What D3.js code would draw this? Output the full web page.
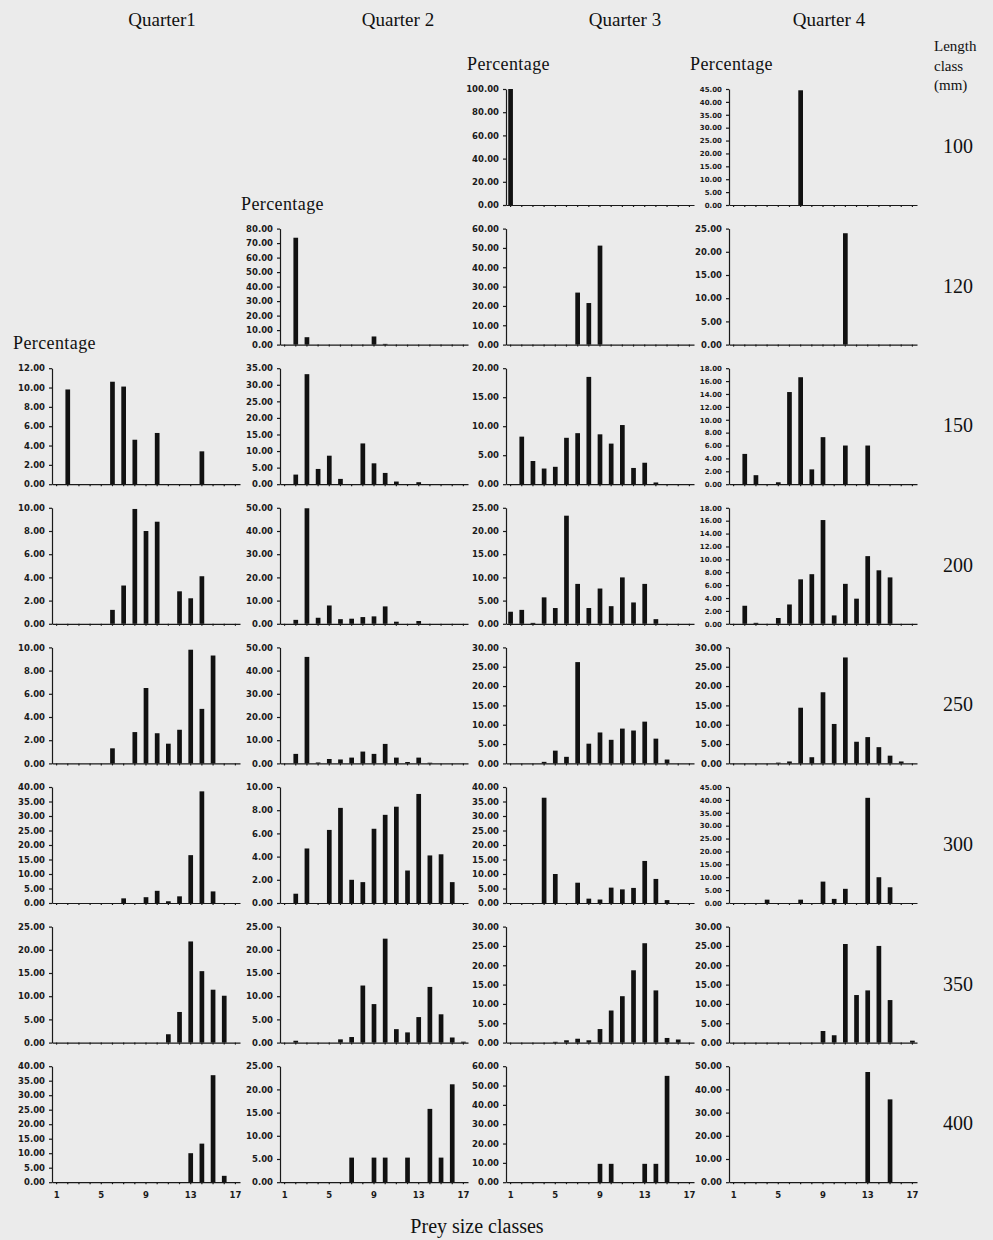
<!DOCTYPE html>
<html>
<head>
<meta charset="utf-8">
<script src="https://cdn.jsdelivr.net/npm/d3@7"></script>
<style>
  html, body { margin: 0; padding: 0; background: #ebebeb; }
  svg { display: block; }
  .ytick text, .xtick text { font-family: "DejaVu Sans", sans-serif; font-weight: bold; fill: #1a1a1a; }
  .serif { font-family: "Liberation Serif", "Times New Roman", serif; fill: #111; }
</style>
</head>
<body>
<script>
// Prey size class distribution (% of prey) by predator length class and quarter
const classes = d3.range(1, 18);               // prey size classes 1..17
const classLabels = [1, 5, 9, 13, 17];
const lengthClasses = [100, 120, 150, 200, 250, 300, 350, 400];
const quarters = ["Quarter1", "Quarter 2", "Quarter 3", "Quarter 4"];

// [prey size class, percentage]
const q1_150 = [[2,9.8],[6,10.6],[7,10.1],[8,4.6],[10,5.3],[14,3.4]];
const q1_200 = [[6,1.2],[7,3.3],[8,9.9],[9,8.0],[10,8.8],[12,2.8],[13,2.2],[14,4.1]];
const q1_250 = [[6,1.3],[8,2.7],[9,6.5],[10,2.6],[11,1.7],[12,2.9],[13,9.8],[14,4.7],[15,9.3]];
const q1_300 = [[7,1.6],[9,2.0],[10,4.2],[11,0.6],[12,2.3],[13,16.5],[14,38.5],[15,4.0]];
const q1_350 = [[11,1.8],[12,6.6],[13,21.8],[14,15.4],[15,11.4],[16,10.1]];
const q1_400 = [[13,10.0],[14,13.3],[15,36.9],[16,2.2]];

const q2_120 = [[2,73.7],[3,5.1],[9,5.6],[10,0.5]];
const q2_150 = [[2,2.9],[3,33.2],[4,4.6],[5,8.6],[6,1.6],[8,12.3],[9,6.3],[10,3.4],[11,0.8],[13,0.6]];
const q2_200 = [[2,1.7],[3,49.8],[4,2.6],[5,7.9],[6,2.0],[7,2.2],[8,2.9],[9,3.2],[10,7.5],[11,0.9],[13,1.2]];
const q2_250 = [[2,4.1],[3,45.9],[4,0.4],[5,1.9],[6,1.7],[7,2.5],[8,5.1],[9,4.1],[10,8.4],[11,2.5],[12,0.6],[13,2.5],[14,0.3]];
const q2_300 = [[2,0.8],[3,4.7],[5,6.3],[6,8.2],[7,2.0],[8,1.8],[9,6.4],[10,7.6],[11,8.3],[12,2.8],[13,9.4],[14,4.1],[15,4.2],[16,1.8]];
const q2_350 = [[2,0.4],[6,0.7],[7,1.2],[8,12.3],[9,8.3],[10,22.4],[11,2.9],[12,2.2],[13,5.5],[14,12.0],[15,6.1],[16,1.1],[17,0.2]];
const q2_400 = [[7,5.3],[9,5.3],[10,5.3],[12,5.3],[14,15.8],[15,5.3],[16,21.1]];

const q3_100 = [[1,100]];
const q3_120 = [[7,26.9],[8,21.5],[9,51.2]];
const q3_150 = [[2,8.2],[3,4.0],[4,2.7],[5,3.0],[6,8.0],[7,8.8],[8,18.5],[9,8.6],[10,7.0],[11,10.2],[12,2.8],[13,3.7],[14,0.3]];
const q3_200 = [[1,2.6],[2,3.0],[3,0.2],[4,5.7],[5,3.4],[6,23.3],[7,8.6],[8,3.4],[9,7.6],[10,3.8],[11,10.0],[12,4.6],[13,8.6],[14,1.0]];
const q3_250 = [[4,0.4],[5,3.3],[6,1.7],[7,26.2],[8,5.1],[9,8.0],[10,6.1],[11,9.0],[12,8.5],[13,10.8],[14,6.4],[15,1.0]];
const q3_300 = [[4,36.3],[5,10.0],[7,7.0],[8,1.5],[9,1.2],[10,5.3],[11,4.7],[12,5.2],[13,14.5],[14,8.3],[15,1.0]];
const q3_350 = [[5,0.2],[6,0.6],[7,1.0],[8,0.6],[9,3.5],[10,8.3],[11,12.0],[12,18.7],[13,25.7],[14,13.5],[15,1.2],[16,0.8]];
const q3_400 = [[9,9.5],[10,9.5],[13,9.5],[14,9.5],[15,55.0]];

const q4_100 = [[7,44.5]];
const q4_120 = [[11,24.0]];
const q4_150 = [[2,4.7],[3,1.4],[5,0.3],[6,14.3],[7,16.6],[8,2.3],[9,7.3],[11,6.0],[13,6.0]];
const q4_200 = [[2,2.8],[3,0.15],[5,0.9],[6,3.0],[7,6.9],[8,7.7],[9,16.1],[10,1.3],[11,6.2],[12,3.9],[13,10.5],[14,8.3],[15,7.2]];
const q4_250 = [[5,0.2],[6,0.5],[7,14.4],[8,1.6],[9,18.4],[10,10.2],[11,27.4],[12,5.6],[13,6.8],[14,4.2],[15,2.0],[16,0.5]];
const q4_300 = [[4,1.3],[7,1.3],[9,8.3],[10,1.6],[11,5.5],[13,40.8],[14,10.0],[15,6.1]];
const q4_350 = [[9,3.0],[10,1.9],[11,25.5],[12,12.3],[13,13.5],[14,25.0],[15,11.0],[17,0.5]];
const q4_400 = [[13,47.5],[15,35.7]];

// y-axis top value and tick step per length class (null = no panel)
const q1Max  = [null, null, 12, 10, 10, 40, 25, 40];
const q1Step = [null, null,  2,  2,  2,  5,  5,  5];
const q2Max  = [null, 80, 35, 50, 50, 10, 25, 25];
const q2Step = [null, 10,  5, 10, 10,  2,  5,  5];
const q3Max  = [100, 60, 20, 25, 30, 40, 30, 60];
const q3Step = [ 20, 10,  5,  5,  5,  5,  5, 10];
const q4Max  = [45, 25, 18, 18, 30, 45, 30, 50];
const q4Step = [ 5,  5,  2,  2,  5,  5,  5, 10];

const seriesByQuarter = [
  [null, null, q1_150, q1_200, q1_250, q1_300, q1_350, q1_400],
  [null, q2_120, q2_150, q2_200, q2_250, q2_300, q2_350, q2_400],
  [q3_100, q3_120, q3_150, q3_200, q3_250, q3_300, q3_350, q3_400],
  [q4_100, q4_120, q4_150, q4_200, q4_250, q4_300, q4_350, q4_400]
];
const maxByQuarter = [q1Max, q2Max, q3Max, q4Max];
const stepByQuarter = [q1Step, q2Step, q3Step, q4Step];

// layout
const width = 993, height = 1240;
const colX = [52, 280, 506, 729];
const titleX = [162, 398, 625, 829];
const PW = 188, PH = 116;
const rowTop = i => 89 + i * 139.6;
const labelX = 958;

const svg = d3.select("body").append("svg")
  .attr("width", width).attr("height", height);

svg.append("rect").attr("width", width).attr("height", height).attr("fill", "#ebebeb");

const x = d3.scaleBand().domain(classes).range([0, PW]).paddingInner(0.58).paddingOuter(0.2);

quarters.forEach((q, qi) => {
  svg.append("text").attr("class", "serif")
    .attr("x", titleX[qi]).attr("y", 26)
    .attr("text-anchor", "middle").attr("font-size", 19)
    .text(q);

  let first = true;
  lengthClasses.forEach((lc, ri) => {
    const data = seriesByQuarter[qi][ri];
    if (!data) return;
    const yMax = maxByQuarter[qi][ri], yStep = stepByQuarter[qi][ri];
    const y = d3.scaleLinear().domain([0, yMax]).range([PH, 0]);
    const g = svg.append("g").attr("transform", `translate(${colX[qi]},${rowTop(ri)})`);

    if (first) {
      svg.append("text").attr("class", "serif")
        .attr("x", colX[qi] - 39).attr("y", rowTop(ri) - 19)
        .attr("font-size", 18).attr("letter-spacing", 0.4)
        .text("Percentage");
      first = false;
    }

    const ticks = d3.range(0, yMax + yStep / 2, yStep);
    const fs = ticks.length >= 10 ? 7 : 8.5;
    const yAxis = g.append("g").attr("class", "ytick")
      .call(d3.axisLeft(y).tickValues(ticks).tickSize(3).tickSizeOuter(0)
        .tickPadding(4).tickFormat(d3.format(".2f")));
    yAxis.selectAll("text").attr("font-size", fs);

    const isBottom = ri === lengthClasses.length - 1;
    const xAxis = g.append("g").attr("class", "xtick")
      .attr("transform", `translate(0,${PH})`)
      .call(d3.axisBottom(x).tickSize(2).tickSizeOuter(0).tickPadding(8)
        .tickFormat(d => (isBottom && classLabels.includes(d)) ? d : ""));
    xAxis.selectAll("text").attr("font-size", 8.5);

    g.selectAll("path.domain, .tick line").attr("stroke", "#1a1a1a").attr("stroke-width", 1.2);

    g.append("g").selectAll("rect").data(data).join("rect")
      .attr("x", d => x(d[0]))
      .attr("width", x.bandwidth())
      .attr("y", d => y(d[1]))
      .attr("height", d => PH - y(d[1]))
      .attr("fill", "#111");
  });
});

// length class labels on the right
const side = svg.append("g");
["Length", "class", "(mm)"].forEach((t, i) => {
  side.append("text").attr("class", "serif").attr("x", 934).attr("y", 51 + i * 19.5)
    .attr("font-size", 15).text(t);
});
lengthClasses.forEach((lc, ri) => {
  side.append("text").attr("class", "serif")
    .attr("x", labelX).attr("y", rowTop(ri) + 64)
    .attr("text-anchor", "middle").attr("font-size", 20)
    .text(lc);
});

svg.append("text").attr("class", "serif")
  .attr("x", 477).attr("y", 1233).attr("text-anchor", "middle")
  .attr("font-size", 20).text("Prey size classes");
</script>
</body>
</html>
